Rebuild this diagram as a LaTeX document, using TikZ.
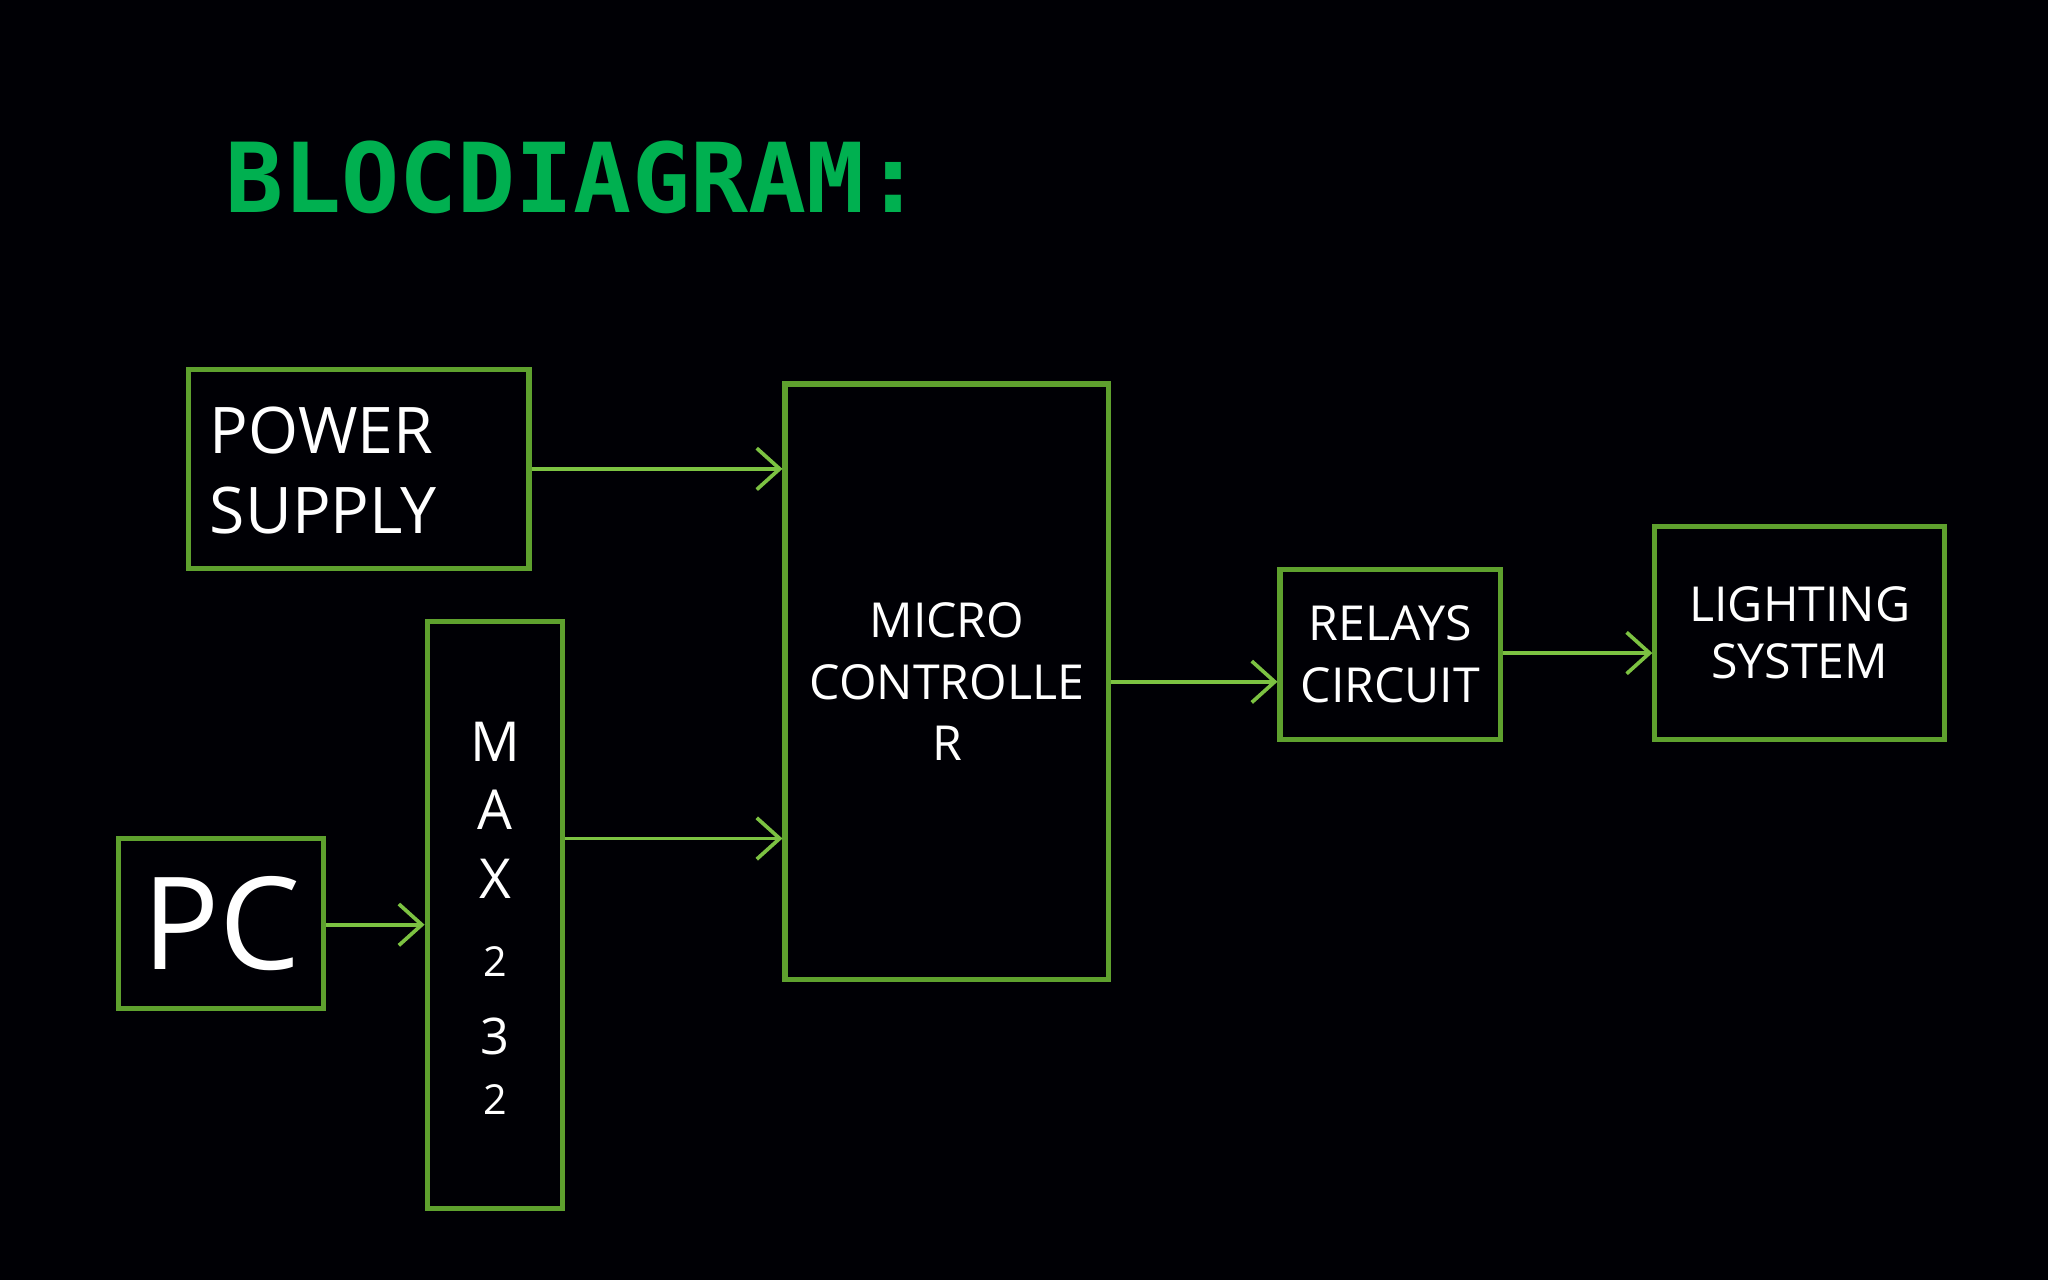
\documentclass[tikz,border=0pt]{standalone}
\usepackage{fontspec}
\setmainfont{Open Sans}
\newfontfamily\titlefont{DejaVu Sans Mono}
\usetikzlibrary{arrows.meta}
\definecolor{boxgreen}{HTML}{5EA02E}
\definecolor{arrgreen}{HTML}{7CC242}
\definecolor{titlegreen}{HTML}{00B050}
\begin{document}
\begin{tikzpicture}[x=0.01cm,y=-0.01cm,
  blk/.style={draw=boxgreen,line width=1.1pt,text=white,inner sep=0pt},
  conn/.style={draw=arrgreen,line width=0.8pt,-{Straight Barb[length=5pt,width=9pt]}}]
\fill[black!98!blue] (0,0) rectangle (1568,980);
\useasboundingbox (0,0) rectangle (1568,980);
\node[anchor=base west,text=titlegreen,font=\titlefont\bfseries\fontsize{21}{24}\selectfont,inner sep=0pt] (title) at (172,163) {BLOCDIAGRAM:};
\node[blk,minimum width=261*0.01cm,minimum height=152*0.01cm] (ps) at (274.5,359) {};
\node[anchor=west,text=white,align=left,font=\fontsize{14}{17.4}\selectfont,inner sep=0pt] (pst) at (160,360) {POWER\\SUPPLY};
\node[blk,minimum width=104*0.01cm,minimum height=449*0.01cm] (max) at (379,700.5) {};
\node[text=white,align=center,font=\fontsize{12}{15}\selectfont,inner sep=0pt] (maxt) at (379,703) {M\\[0pt]A\\[0pt]X\\[2pt]{\small 2}\\[2pt]{\fontsize{11}{11}\selectfont 3}\\[-2pt]{\small 2}};
\node[blk,minimum width=157*0.01cm,minimum height=130*0.01cm,font=\fontsize{28}{30}\selectfont] (pc) at (169.5,707) {PC};
\node[blk,minimum width=248*0.01cm,minimum height=456*0.01cm,align=center,font=\fontsize{10.5}{13.4}\selectfont] (mc) at (725,522) {MICRO\\CONTROLLE\\R};
\node[blk,minimum width=169*0.01cm,minimum height=130*0.01cm,align=center,font=\fontsize{10.5}{13.4}\selectfont] (rel) at (1064.5,501) {RELAYS\\CIRCUIT};
\node[blk,minimum width=222*0.01cm,minimum height=163*0.01cm,align=center,font=\fontsize{10.5}{12.6}\selectfont] (ls) at (1378,484.5) {LIGHTING\\SYSTEM};
\draw[conn] (ps.east|-0,359) -- (mc.west|-0,359);
\draw[conn] (max.east|-0,642) -- (mc.west|-0,642);
\draw[conn] (pc.east|-0,708) -- (max.west|-0,708);
\draw[conn] (mc.east|-0,522) -- (rel.west|-0,522);
\draw[conn] (rel.east|-0,500) -- (ls.west|-0,500);
\end{tikzpicture}
\end{document}
